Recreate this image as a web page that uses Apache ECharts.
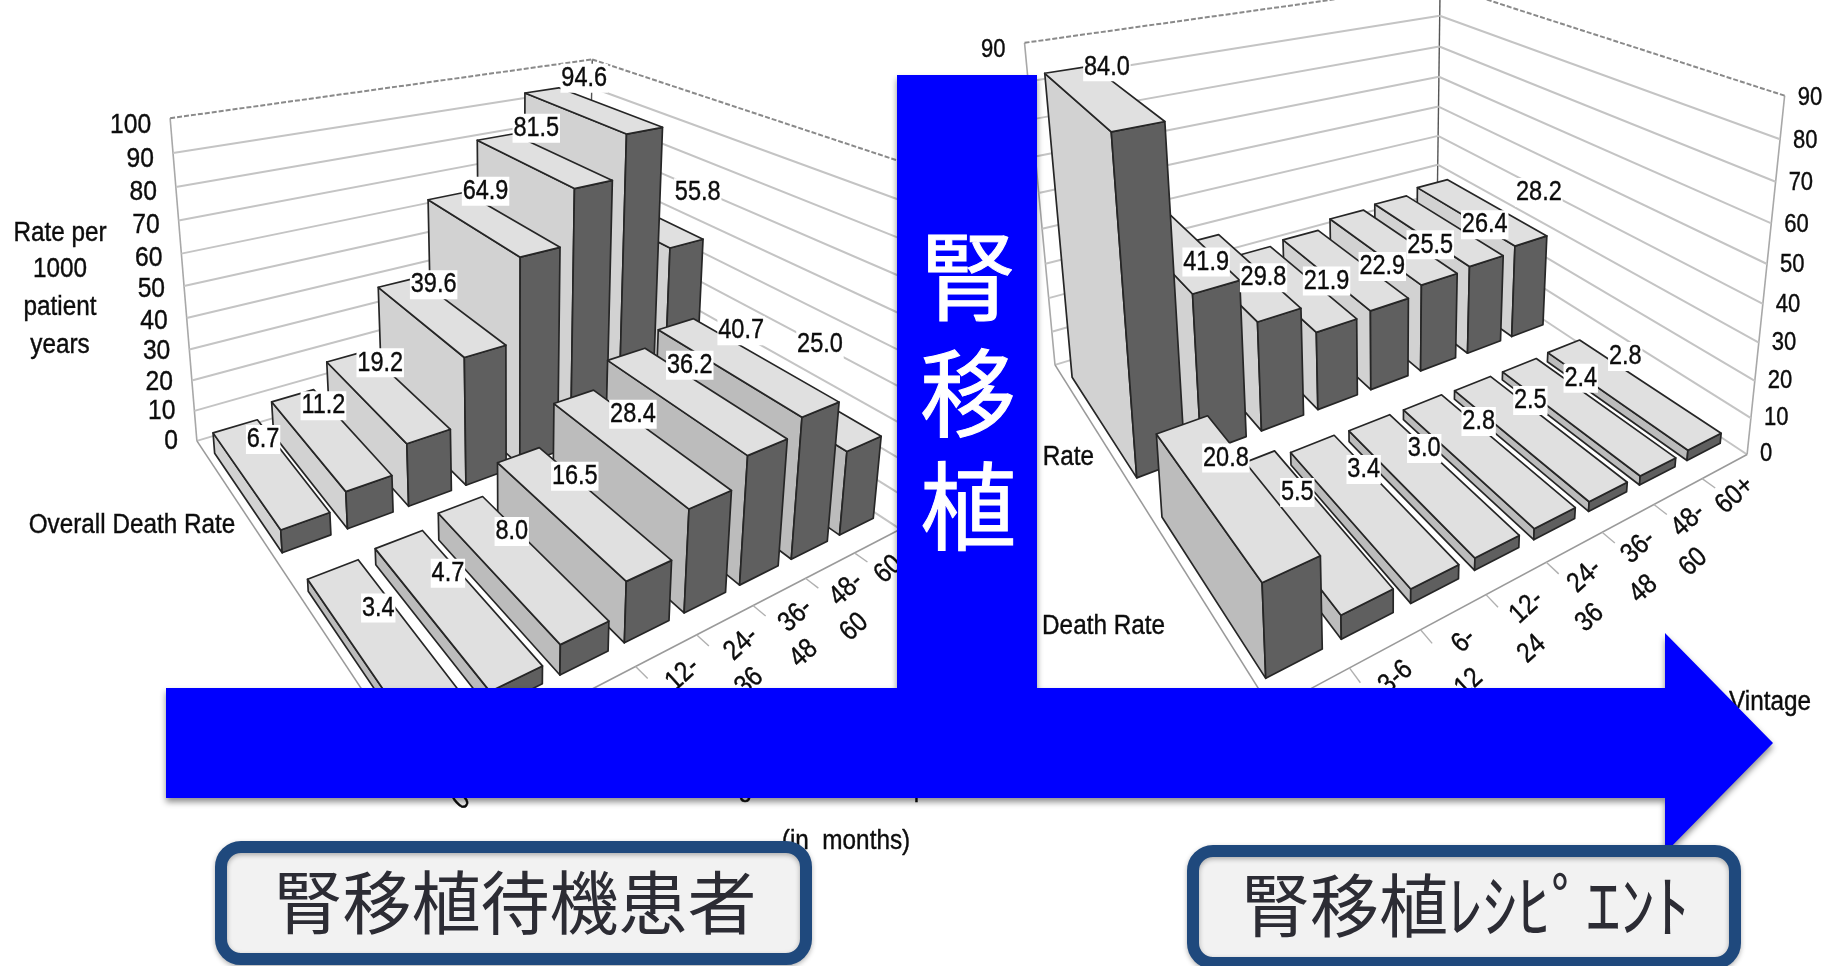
<!DOCTYPE html>
<html>
<head>
<meta charset="utf-8">
<title>腎移植</title>
<script src="https://cdn.jsdelivr.net/npm/echarts@6/dist/echarts.min.js"></script>
<style>html,body{margin:0;padding:0;background:#fff}#c{width:1835px;height:966px}</style>
</head>
<body>
<div id="c"></div>
<script>
// Vintage groups shared by both panels
const vintages = ['0-3', '3-6', '6-12', '12-24', '24-36', '36-48', '48-60', '60+'];
const vintageLine1 = ['0-3', '3-6', '6-', '12-', '24-', '36-', '48-', '60+'];
const vintageLine2 = ['', '', '12', '24', '36', '48', '60', ''];

// Wait-listed patients, rate per 1000 patient years
const waitlistOverall = [6.7, 11.2, 19.2, 39.6, 64.9, 81.5, 94.6, 55.8];
const waitlistCardio = [3.4, 4.7, 8.0, 16.5, 28.4, 36.2, 40.7, 25.0];
const waitlistTicks = [0, 10, 20, 30, 40, 50, 60, 70, 80, 90, 100];

// Transplant recipients, rate per 1000 patient years
const recipientOverall = [84.0, 41.9, 29.8, 21.9, 22.9, 25.5, 26.4, 28.2];
const recipientCardio = [20.8, 5.5, 3.4, 3.0, 2.8, 2.5, 2.4, 2.8];
const recipientTicks = [0, 10, 20, 30, 40, 50, 60, 70, 80, 90];

// Value labels moved clear of neighbouring bars, in pixels
const waitlistOverallNudge = [[-5, 7], [-5, 7], [-5, 7], [-5, 8], [-5, 7], [-5, 7], [-6, 7], [65, 14]];
const waitlistCardioNudge = [[-5, 8], [-5, 8], [-6, 6], [-4, 6], [-4, 8], [-2, 6], [-2, 5], [33, -15]];
const recipientOverallNudge = [[6, 9], [30, 53], [27, 41], [35, 33], [40, 37], [40, 38], [49, 34], [60, 20]];
const recipientCardioNudge = [[-6, 6], [-7, 6], [-5, 3], [-4, 7], [-5, 4], [-5, 5], [-3, 4], [-4, 4]];

const SANS = '"Liberation Sans",Arial,sans-serif';
const CJK = '"Noto Sans CJK JP","Noto Sans",sans-serif';

// Condensed Latin text used throughout the chart
function narrowStyle(text, size, align) {
  return {
    text, font: size + 'px ' + SANS, fill: '#0c0c0c', stroke: '#0c0c0c', lineWidth: 0.4,
    align, verticalAlign: 'middle'
  };
}

// Camera fit: least-squares projective matrix from (u, d, h) box points to the page
function fitCamera(pts) {
  const N = 11, A = Array.from({length: N}, () => new Array(N + 1).fill(0));
  const add = (r, b) => {
    for (let i = 0; i < N; i++) {
      for (let j = 0; j < N; j++) A[i][j] += r[i] * r[j];
      A[i][N] += r[i] * b;
    }
  };
  pts.forEach(([u, d, h, x, y]) => {
    add([u, d, h, 1, 0, 0, 0, 0, -x * u, -x * d, -x * h], x);
    add([0, 0, 0, 0, u, d, h, 1, -y * u, -y * d, -y * h], y);
  });
  for (let c = 0; c < N; c++) {
    let p = c;
    for (let r = c + 1; r < N; r++) if (Math.abs(A[r][c]) > Math.abs(A[p][c])) p = r;
    [A[c], A[p]] = [A[p], A[c]];
    for (let r = 0; r < N; r++) {
      if (r === c) continue;
      const f = A[r][c] / A[c][c];
      for (let k = c; k <= N; k++) A[r][k] -= f * A[c][k];
    }
  }
  const m = A.map((row, i) => row[N] / row[i]);
  return (u, d, h) => {
    const w = m[8] * u + m[9] * d + m[10] * h + 1;
    return [(m[0] * u + m[1] * d + m[2] * h + m[3]) / w,
            (m[4] * u + m[5] * d + m[6] * h + m[7]) / w];
  };
}

const waitlistCamera = fitCamera([
  [0, 0, 0, 195, 436], [0, 0, 1, 169, 122], [1, 0, 1, 594, 59], [1, 0, 0, 588, 326],
  [0, 1, 0, 425, 780], [1, 1, 0, 898, 531], [1, 1, 1, 936, 170]
]);
const recipientCamera = fitCamera([
  [0, 0, 0, 1054, 362], [0, 0, 1, 1024, 45], [1, 0, 1, 1441, -16], [1, 0, 0, 1437, 250],
  [0, 1, 0, 1274, 711], [1, 1, 0, 1746, 455], [1, 1, 1, 1784, 94]
]);

const ROW_SPANS = [[0.065, 0.44], [0.56, 0.95]];
const ROW_SIDE = ['#d2d2d2', '#bcbcbc'];
const BAR_MARGIN = 0.13;

// Converts a (category, value) pair to box coordinates via the grid's own axes
function toBox(api, params, cat, val) {
  const cs = params.coordSys, p = api.coord([cat, val]), band = api.size([1, 0])[0];
  return {
    u: (p[0] - cs.x) / cs.width,
    h: (cs.y + cs.height - p[1]) / cs.height,
    du: band / cs.width
  };
}

function barSeries(gridIndex, camera, values, nudges, row, z) {
  return {
    type: 'custom', xAxisIndex: gridIndex, yAxisIndex: gridIndex, z, silent: true, clip: false,
    animation: false,
    data: values.map((v, i) => [i, v]).reverse(),
    renderItem(params, api) {
      const i = api.value(0), v = api.value(1);
      const b = toBox(api, params, i, v);
      const u0 = b.u - b.du / 2 + BAR_MARGIN * b.du, u1 = b.u + b.du / 2 - BAR_MARGIN * b.du;
      const [d0, d1] = ROW_SPANS[row], h = b.h;
      const rank = row * 8 + (7 - i) + 1;
      const face = (pts, fill) => ({
        type: 'polygon', z2: rank,
        shape: {points: pts.map(q => camera(q[0], q[1], q[2]))},
        style: {fill, stroke: '#262626', lineWidth: 1.7, lineJoin: 'round'}
      });
      const c = camera(b.u, (d0 + d1) / 2, h);
      return {
        type: 'group',
        children: [
          face([[u0, d0, 0], [u0, d1, 0], [u0, d1, h], [u0, d0, h]], ROW_SIDE[row]),
          face([[u0, d1, 0], [u1, d1, 0], [u1, d1, h], [u0, d1, h]], '#5f5f5f'),
          face([[u0, d0, h], [u0, d1, h], [u1, d1, h], [u1, d0, h]], '#e0e0e0'),
          {
            type: 'text', z2: 200, x: c[0] + nudges[i][0], y: c[1] - 38 + nudges[i][1], scaleX: 0.84,
            style: {...narrowStyle(v.toFixed(1), 28, 'center'), backgroundColor: '#fff', padding: [1, 1, 0, 1]}
          }
        ]
      };
    }
  };
}

function wallSeries(gridIndex, camera, ticks, opts) {
  const top = ticks[ticks.length - 1];
  return {
    type: 'custom', xAxisIndex: gridIndex, yAxisIndex: gridIndex, z: opts.z, silent: true, clip: false,
    animation: false,
    data: ticks.map(t => [0, t]),
    renderItem(params, api) {
      const t = api.value(1), h = toBox(api, params, 0, t).h;
      const isTop = t === top;
      const grid = isTop
        ? {stroke: '#8a8a8a', lineWidth: 2, lineDash: [5, 2]}
        : {stroke: '#c4c4c4', lineWidth: 2};
      const seg = (a, b, style) => ({
        type: 'line', z2: 0,
        shape: {x1: a[0], y1: a[1], x2: b[0], y2: b[1]}, style
      });
      const kids = [
        seg(camera(0, 0, h), camera(1, 0, h), grid),
        seg(camera(1, 0, h), camera(1, 1, h), grid)
      ];
      const txt = (p, dx, dy, align) => ({
        type: 'text', z2: 1, x: p[0] + dx, y: p[1] + dy, scaleX: 0.88,
        style: narrowStyle(String(t), opts.size, align)
      });
      if (opts.leftTicks.includes(t)) kids.push(txt(camera(0, 0, h), -opts.leftGap, 7 * h, 'right'));
      if (opts.rightTicks.includes(t)) kids.push(txt(camera(1, 1, h), opts.rightGap, 2 * h, 'left'));
      if (t === 0) {
        const edge = {stroke: '#9a9a9a', lineWidth: 1.6};
        const post = {stroke: '#a8a8a8', lineWidth: 1.6};
        kids.push(
          seg(camera(0, 0, 0), camera(0, 1, 0), edge),
          seg(camera(0, 1, 0), camera(1, 1, 0), edge),
          seg(camera(0, 0, 0), camera(0, 0, 1), post),
          seg(camera(1, 1, 0), camera(1, 1, 1), post),
          seg(camera(1, 0, 0), camera(1, 0, 1), {stroke: '#555', lineWidth: 1.4})
        );
      }
      return {type: 'group', children: kids};
    }
  };
}

function vintageSeries(gridIndex, camera, z, first, second) {
  return {
    type: 'custom', xAxisIndex: gridIndex, yAxisIndex: gridIndex, z, silent: true, clip: false,
    animation: false,
    data: vintages.map((_, i) => [i, 0]),
    renderItem(params, api) {
      const i = api.value(0), b = toBox(api, params, i, 0);
      const p = camera(b.u, 1, 0);
      const tickA = camera(b.u - b.du / 2, 1, 0), tickB = camera(b.u - b.du / 2, 1.03, 0);
      const label = (text, off, sx, sy) => ({
        type: 'text', x: p[0] + off[0] + sx, y: p[1] + off[1] + sy, rotation: 42 * Math.PI / 180, scaleX: 0.86,
        style: narrowStyle(text, 28, 'center')
      });
      const lead = i === 0 ? [-7, 12] : [0, 0];
      const kids = [
        {type: 'line', shape: {x1: tickA[0], y1: tickA[1], x2: tickB[0], y2: tickB[1]},
         style: {stroke: '#b0b0b0', lineWidth: 1.4}},
        label(vintageLine1[i], first, lead[0], lead[1])
      ];
      if (vintageLine2[i]) kids.push(label(vintageLine2[i], second, 0, 0));
      return {type: 'group', children: kids};
    }
  };
}

const axisBase = {show: false};
const caption = (x, y, text, align) => ({
  type: 'text', z: 8, x, y, scaleX: 0.9, style: narrowStyle(text, 27, align)
});
const option = {
  animation: false,
  backgroundColor: '#fff',
  grid: [
    {left: 10, top: 10, width: 800, height: 800},
    {left: 10, top: 10, width: 800, height: 800}
  ],
  xAxis: [
    {...axisBase, type: 'category', gridIndex: 0, data: vintages},
    {...axisBase, type: 'category', gridIndex: 1, data: vintages}
  ],
  yAxis: [
    {...axisBase, type: 'value', gridIndex: 0, min: 0, max: 100, interval: 10},
    {...axisBase, type: 'value', gridIndex: 1, min: 0, max: 90, interval: 10}
  ],
  series: [
    wallSeries(0, waitlistCamera, waitlistTicks,
      {z: 2, size: 28, leftGap: 19, rightGap: 15, leftTicks: waitlistTicks, rightTicks: []}),
    vintageSeries(0, waitlistCamera, 2, [16, 24], [24, 62]),
    barSeries(0, waitlistCamera, waitlistOverall, waitlistOverallNudge, 0, 3),
    barSeries(0, waitlistCamera, waitlistCardio, waitlistCardioNudge, 1, 3),
    wallSeries(1, recipientCamera, recipientTicks,
      {z: 6, size: 25, leftGap: 19, rightGap: 13, leftTicks: [90], rightTicks: recipientTicks}),
    vintageSeries(1, recipientCamera, 6, [10, 29], [15, 71]),
    barSeries(1, recipientCamera, recipientOverall, recipientOverallNudge, 0, 7),
    barSeries(1, recipientCamera, recipientCardio, recipientCardioNudge, 1, 7)
  ],
  graphic: [
    // keeps the recipient panel on a clean page
    {type: 'rect', z: 5, silent: true, shape: {x: 897, y: 0, width: 938, height: 966}, style: {fill: '#fff'}},

    caption(60, 234, 'Rate per', 'center'),
    caption(60, 270, '1000', 'center'),
    caption(60, 308, 'patient', 'center'),
    caption(60, 346, 'years', 'center'),
    caption(132, 526, 'Overall Death Rate', 'center'),
    caption(672, 789, 'Waiting Time on Transplant List', 'left'),
    caption(846, 842, '(in  months)', 'center'),
    caption(1094, 458, 'Death Rate', 'right'),
    caption(1165, 627, 'CV Death Rate', 'right'),
    caption(1811, 703, 'Transplant Vintage', 'right'),

    // the blue transplant marker
    {type: 'polygon', z: 10, silent: true,
     shape: {points: [[166, 688], [897, 688], [897, 75], [1037, 75], [1037, 688], [1665, 688], [1665, 633], [1773, 743], [1665, 853], [1665, 798], [166, 798]]},
     style: {fill: '#0000ff', shadowBlur: 6, shadowOffsetY: 4, shadowColor: 'rgba(0,0,0,0.45)'}},
    {type: 'text', z: 11, x: 968, y: 276, style: {text: '腎', font: '96px ' + CJK, fill: '#fff', stroke: '#fff', lineWidth: 1, align: 'center', verticalAlign: 'middle'}},
    {type: 'text', z: 11, x: 968, y: 393, style: {text: '移', font: '96px ' + CJK, fill: '#fff', stroke: '#fff', lineWidth: 1, align: 'center', verticalAlign: 'middle'}},
    {type: 'text', z: 11, x: 968, y: 506, style: {text: '植', font: '96px ' + CJK, fill: '#fff', stroke: '#fff', lineWidth: 1, align: 'center', verticalAlign: 'middle'}},

    // caption boxes
    {type: 'rect', z: 12, silent: true, shape: {x: 221, y: 847, width: 585, height: 112, r: 20},
     style: {fill: '#f2f2f2', stroke: '#1f497d', lineWidth: 12, shadowBlur: 5, shadowOffsetY: 2, shadowColor: 'rgba(0,0,0,0.3)'}},
    {type: 'text', z: 13, x: 515, y: 903, style: {text: '腎移植待機患者', font: '69px ' + CJK, fill: '#2c2c34', align: 'center', verticalAlign: 'middle'}},
    {type: 'rect', z: 12, silent: true, shape: {x: 1193, y: 851, width: 542, height: 112, r: 20},
     style: {fill: '#f2f2f2', stroke: '#1f497d', lineWidth: 12, shadowBlur: 5, shadowOffsetY: 2, shadowColor: 'rgba(0,0,0,0.3)'}},
    {type: 'text', z: 13, x: 1241, y: 906, style: {text: '腎移植ﾚｼﾋﾟｴﾝﾄ', font: '69px ' + CJK, fill: '#2c2c34', align: 'left', verticalAlign: 'middle'}}
  ]
};

echarts.init(document.getElementById('c'), null, {renderer: 'canvas'}).setOption(option);
</script>
</body>
</html>
